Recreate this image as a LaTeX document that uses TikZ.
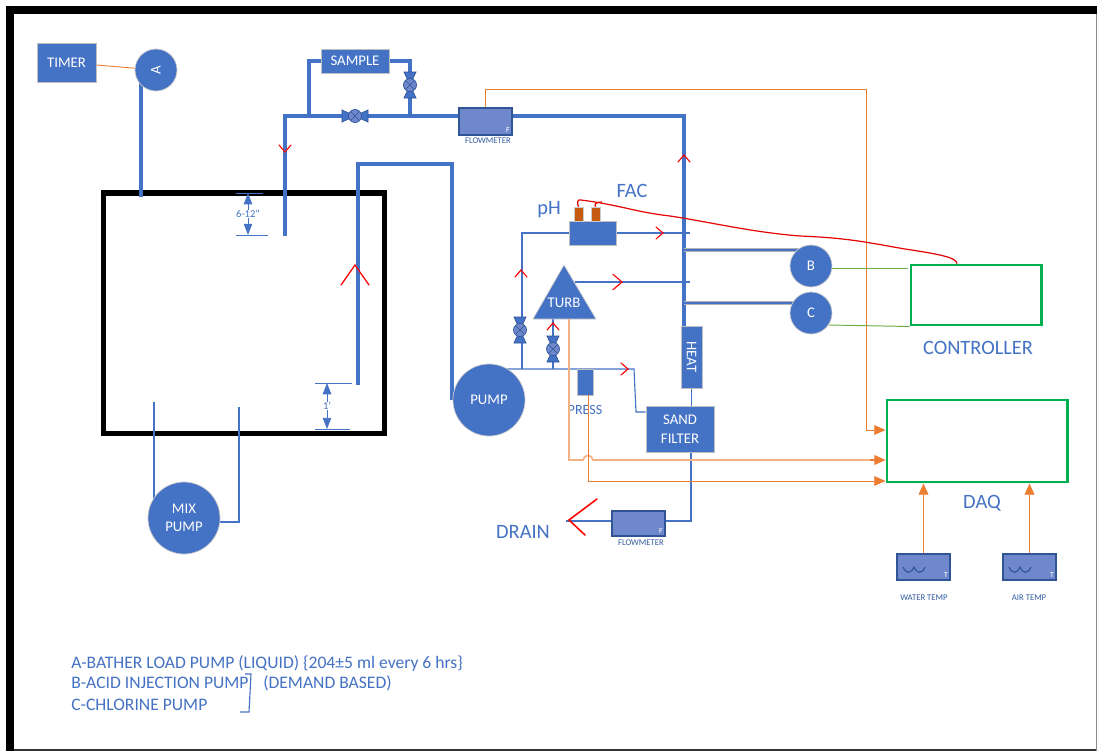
\documentclass[tikz,border=0pt]{standalone}
\usepackage{fontspec}
\setmainfont{Carlito}
\usepackage{xcolor}
\usetikzlibrary{arrows.meta,backgrounds,calc,positioning}
\definecolor{pipeblue}{HTML}{4472C4}
\definecolor{meterblue}{HTML}{6F88CB}
\definecolor{darkblue}{HTML}{2F5597}
\definecolor{sigorange}{HTML}{ED7D31}
\definecolor{paleorange}{HTML}{F4B183}
\definecolor{boxgreen}{HTML}{00B050}
\definecolor{wiregreen}{HTML}{70AD47}
\definecolor{probebrown}{HTML}{C55A11}
\tikzset{
  bluebox/.style={draw=black!25, line width=0.6pt, fill=pipeblue, text=white, inner sep=0pt, align=center, font=\fontsize{10.5}{12.5}\selectfont},
  pumpdisc/.style={circle, draw=black!20, line width=0.5pt, fill=pipeblue, text=white, inner sep=0pt, align=center, font=\fontsize{10.5}{12.5}\selectfont},
  meterbox/.style={draw=darkblue, line width=0.8pt, fill=meterblue, inner sep=0pt},
  probe/.style={draw=black!20, line width=0.4pt, fill=probebrown, minimum width=0.225cm, minimum height=0.35cm, inner sep=0pt},
  tinylabel/.style={text=darkblue!80!pipeblue, inner sep=0pt, font=\fontsize{6.2}{7}\selectfont},
  cornerletter/.style={text=white, inner sep=0pt, font=\fontsize{5.5}{6}\selectfont},
  dimlabel/.style={text=pipeblue, inner sep=0pt, font=\fontsize{7.5}{9}\selectfont},
  bluetext/.style={text=pipeblue, inner sep=0pt, font=\fontsize{14.5}{17}\selectfont},
  legendtext/.style={text=pipeblue, inner sep=0pt, anchor=west, font=\fontsize{12.5}{15}\selectfont},
  pipe/.style={draw=pipeblue, line width=2.2pt},
  midpipe/.style={draw=pipeblue, line width=1.6pt},
  thinpipe/.style={draw=pipeblue, line width=0.8pt},
  signal/.style={draw=sigorange, line width=0.65pt},
  signalend/.style={signal, -{Triangle[length=8pt,width=7pt,fill=sigorange]}},
  greenbox/.style={draw=boxgreen, line width=2.1pt, inner sep=0pt},
  greenwire/.style={draw=wiregreen, line width=0.7pt},
  redwire/.style={draw=red!90!black, line width=0.85pt},
  dimline/.style={draw=pipeblue, line width=0.7pt},
  dimarrow/.style={dimline, -{Triangle[length=8pt,width=6pt,fill=pipeblue]}},
  valve/.pic={
    \draw[fill=pipeblue, draw=darkblue, line width=0.5pt] (-13,-6) -- (13,6) -- (13,-6) -- (-13,6) -- cycle;
    \draw[fill=meterblue, draw=darkblue, line width=0.5pt] (0,0) circle (6.5);
    \draw[draw=darkblue, line width=0.3pt] (-4,-4) -- (4,4) (-4,4) -- (4,-4);
  },
  flowmark/.pic={
    \draw[red, line width=0.8pt, line cap=round] (-7,-6) -- (0,0) -- (-7,6);
  },
  bigmark/.pic={
    \draw[red, line width=0.9pt, line cap=round] (-20,-14) -- (0,0) -- (-20,14);
  }
}
\begin{document}
\begin{tikzpicture}[x=0.025cm,y=-0.025cm]
\useasboundingbox (0,0) rectangle (1097,751);
% Punti delle tubazioni
\coordinate (tankfeed) at (141,197);
\coordinate (maindrop) at (285,236);
\coordinate (mainturn) at (285,116);
\coordinate (mainright) at (684,116);
\coordinate (mainlow) at (684,326);
\coordinate (sampleleft) at (309,116);
\coordinate (sampleright) at (410,116);
\coordinate (inletlow) at (358,385);
\coordinate (inlettop) at (358,164);
\coordinate (inletright) at (452,164);
\coordinate (mixleft) at (154,402);
\coordinate (mixright) at (239,407);
\coordinate (mixback) at (239,522);
\coordinate (branchlow) at (522,369);
\coordinate (phend) at (690,233);
\coordinate (turbend) at (690,282);
\coordinate (feedturn) at (634,369);
\coordinate (feeddown) at (636,412);
\coordinate (drainturn) at (691,521);
\coordinate (drainend) at (566,521);
\coordinate (acidin) at (684,250);
\coordinate (chlorin) at (684,303);
\coordinate (sigturn) at (485,89);
\coordinate (sigright) at (866,89);
\coordinate (sigdown) at (866,430);
\coordinate (turbdown) at (569,460);
\coordinate (pressdown) at (588,481);
\coordinate (turbapex) at (564,265);
\coordinate (turbright) at (575,282);
\coordinate (turbfoot) at (553,319);
\coordinate (turbsig) at (569,319);
\coordinate (bgreen) at (908,268);
\coordinate (cgreen) at (829,325);
% Nodi
\node[bluebox, minimum width=1.475cm, minimum height=0.975cm] (timer) at (66.5,62.5) {TIMER};
\node[pumpdisc, minimum size=1.05cm] (pumpa) at (156,70) {\rotatebox{90}{A}};
\node[bluebox, minimum width=1.7cm, minimum height=0.6cm] (sample) at (355,61) {SAMPLE};
\node[meterbox, minimum width=1.325cm, minimum height=0.675cm] (flowtop) at (485.5,121.5) {};
\node[tinylabel] (flowtoplabel) at (488,141) {FLOWMETER};
\node[pumpdisc, minimum size=1.8cm] (pump) at (489,400) {PUMP};
\node[pumpdisc, minimum size=1.8cm] (mixpump) at (184,518) {MIX\\PUMP};
\node[bluebox, minimum width=1.175cm, minimum height=0.6cm] (phcell) at (592.5,233) {};
\node[probe] (probeph) at (578.5,214) {};
\node[probe] (probefac) at (595.5,214) {};
\node[bluetext] (phlabel) at (549,210) {pH};
\node[bluetext] (faclabel) at (632,191) {FAC};
\node[bluebox, minimum width=0.4cm, minimum height=0.65cm] (press) at (585,382) {};
\node[bluetext, font=\fontsize{10}{12}\selectfont] (presslabel) at (585,410) {PRESS};
\node[bluebox, minimum width=0.525cm, minimum height=1.55cm] (heat) at (691.5,357) {\rotatebox{-90}{HEAT}};
\node[bluebox, minimum width=1.7cm, minimum height=1.15cm] (sand) at (680,429) {SAND\\[1pt]FILTER};
\node[meterbox, minimum width=1.325cm, minimum height=0.625cm] (flowlow) at (638.5,523.5) {};
\node[tinylabel] (flowlowlabel) at (641,543) {FLOWMETER};
\node[bluetext] (drain) at (523,532) {DRAIN};
\node[pumpdisc, minimum size=1.05cm] (pumpb) at (811,266) {B};
\node[pumpdisc, minimum size=1.05cm] (pumpc) at (811,313) {C};
\node[greenbox, minimum width=3.25cm, minimum height=1.5cm] (controller) at (976,295) {};
\node[bluetext] (controllerlabel) at (978,348) {CONTROLLER};
\node[greenbox, minimum width=4.5cm, minimum height=2.05cm] (daq) at (977,441) {};
\node[bluetext] (daqlabel) at (982,503) {DAQ};
\node[meterbox, minimum width=1.325cm, minimum height=0.65cm] (watertemp) at (923.5,567) {};
\node[tinylabel] (watertemplabel) at (924,598) {WATER TEMP};
\node[meterbox, minimum width=1.325cm, minimum height=0.65cm] (airtemp) at (1029.5,567) {};
\node[tinylabel] (airtemplabel) at (1029,598) {AIR TEMP};
% Cornice, vasca e tubazioni sotto i nodi
\begin{scope}[on background layer]
\fill[white] (0,0) rectangle (1097,751);
\fill[black] (6,6) rectangle (1097,14);
\fill[black] (6,6) rectangle (14,751);
\fill[black!80] (14,749) rectangle (1097,751);
\fill[black!45] (1096,14) rectangle (1097,751);
\node[draw, line width=3.6pt, minimum width=7cm, minimum height=6cm, inner sep=0pt] (tank) at (244,313) {};
\draw[pipe] (tankfeed) -- (tankfeed |- pumpa);
\draw[pipe] (maindrop) -- (mainturn) -- (mainright) -- (mainlow);
\draw[pipe] (sampleleft) |- (sample.west);
\draw[pipe] (sample.east) -| (sampleright);
\draw[pipe] (inletlow) -- (inlettop) -- (inletright) -- (inletright |- pump);
\draw[midpipe] (mixleft) -- (mixleft |- mixpump);
\draw[midpipe] (mixright) -- (mixback) -- (mixpump |- mixback);
\draw[thinpipe] (phcell.west) -| (branchlow);
\draw[thinpipe] (phcell.east) -- (phend);
\draw[thinpipe] (turbright) -- (turbend);
\draw[thinpipe] (turbfoot) -- (turbfoot |- branchlow);
\draw[thinpipe] (pump |- branchlow) -- (feedturn) -- (feeddown) -- (sand.west |- feeddown);
\draw[thinpipe] (heat.south) -- (heat.south |- sand.north);
\draw[midpipe] (drainturn |- sand.south) -- (drainturn) -- (drainend);
\draw[draw=black!30, line width=3pt] (acidin) -- (pumpb |- acidin);
\draw[draw=pipeblue, line width=1.8pt] (acidin) -- (pumpb |- acidin);
\draw[draw=black!30, line width=3pt] (chlorin) -- (pumpc |- chlorin);
\draw[draw=pipeblue, line width=1.8pt] (chlorin) -- (pumpc |- chlorin);
\draw[signal] (timer) -- (pumpa);
\end{scope}
% Turbidimetro
\draw[draw=black!20, line width=0.5pt, fill=pipeblue] (turbapex) -- (596,319) -- (533,319) -- cycle;
\node[text=white, inner sep=0pt, font=\fontsize{10.5}{12.5}\selectfont] (turb) at (564,303) {TURB};
% Valvole
\pic at (355,116) {valve};
\pic[rotate=90] at (410,85) {valve};
\pic[rotate=90] at (520,330) {valve};
\pic[rotate=90] at (553,349) {valve};
% Segnali
\draw[signal] (sigturn |- flowtop.north) -- (sigturn) -- (sigright) -- (sigdown);
\draw[signalend] (sigdown) -- (daq.west |- sigdown);
\draw[draw=paleorange, line width=1.2pt] (turbsig) -- (turbdown) -- (583,460) .. controls (584,454) and (592,454) .. (593,460) -- (870,460);
\draw[signalend, line width=1pt] (870,460) -- (daq.west |- turbdown);
\draw[signal] (pressdown |- press.south) -- (pressdown);
\draw[signalend] (pressdown) -- (daq.west |- pressdown);
\draw[signalend] (watertemp.north) -- (watertemp.north |- daq.south);
\draw[signalend] (airtemp.north) -- (airtemp.north |- daq.south);
% Controller
\draw[greenwire] (pumpb.east |- bgreen) -- (bgreen);
\draw[greenwire] (cgreen) -- (controller.south west);
% Filo rosso
\draw[redwire] (controller.north -| 957,0) .. controls (956,258) and (945,255) .. (905,249) .. controls (870,243) and (850,238) .. (800,236) .. controls (750,232) and (710,222) .. (670,216) .. controls (635,212) and (620,205) .. (581,200) .. controls (577,199) and (577,203) .. (probeph.north);
\draw[redwire] (probefac.north) .. controls (594,204) and (596,202) .. (602,202);
% Frecce di flusso
\pic[rotate=-90] at (285,152) {flowmark};
\pic[rotate=90] at (684,155) {flowmark};
\pic[rotate=90] at (355,265) {bigmark};
\pic at (663,233) {flowmark};
\pic[scale=1.3] at (622,282) {flowmark};
\pic[rotate=90] at (521,270) {flowmark};
\pic[rotate=90] at (553,323) {flowmark};
\pic at (628,369) {flowmark};
\draw[red, line width=1.1pt, line cap=round] (597,499) -- (569,520) -- (585,535);
% Quote
\draw[dimline] (236,193) -- (263,193);
\draw[dimline] (236,235) -- (268,235);
\node[dimlabel] (toplabel) at (248,214) {6-12"};
\draw[dimarrow] (toplabel.north) -- (248,193);
\draw[dimarrow] (toplabel.south) -- (248,235);
\draw[dimline] (315,383) -- (352,383);
\draw[dimline] (315,429) -- (350,429);
\node[dimlabel] (lowlabel) at (327,406) {1'};
\draw[dimarrow] (lowlabel.north) -- (327,383);
\draw[dimarrow] (lowlabel.south) -- (327,429);
% Sensori: onda e lettera
\draw[darkblue, line width=0.8pt] (903,567) .. controls (906,574) and (911,574) .. (914,567) .. controls (917,574) and (922,574) .. (925,567);
\draw[darkblue, line width=0.8pt] (1009,567) .. controls (1012,574) and (1017,574) .. (1020,567) .. controls (1023,574) and (1028,574) .. (1031,567);
\node[cornerletter] (watert) at (946,575) {T};
\node[cornerletter] (airt) at (1052,575) {T};
\node[cornerletter] (flowtopf) at (508,130) {F};
\node[cornerletter] (flowlowf) at (661,531) {F};
% Legenda
\node[legendtext] (legenda) at (71,663) {A-BATHER LOAD PUMP (LIQUID) \{204±5 ml every 6 hrs\}};
\node[legendtext] (legendb) at (71,683) {B-ACID INJECTION PUMP};
\node[legendtext] (legendc) at (71,705) {C-CHLORINE PUMP};
\node[legendtext] (legendd) at (263,683) {(DEMAND BASED)};
\draw[thinpipe] (245,674) -- (251,674) -- (249,712) -- (240,712);
\end{tikzpicture}
\end{document}
